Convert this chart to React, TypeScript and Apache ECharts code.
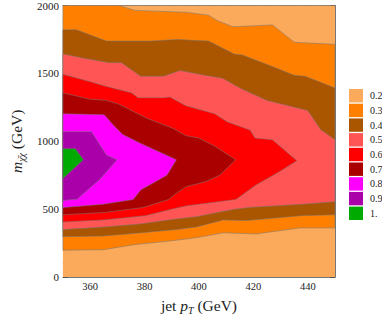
import React, { useEffect, useRef } from "react";
import * as echarts from "echarts";

// axis ranges and ticks
const xRange = [350, 450];
const yRange = [0, 2000];
const xMajorTicks = [360, 380, 400, 420, 440];
const xMinorTicks = [355, 365, 370, 375, 385, 390, 395, 405, 410, 415, 425, 430, 435, 445];

// contour levels (legend labels) and colours
const levelLabels = ["0.2", "0.3", "0.4", "0.5", "0.6", "0.7", "0.8", "0.9", "1."];
const levelColors = ["#FBA95A", "#FF8000", "#AA5500", "#FF5555", "#FF0000", "#AA0000", "#FF00FF", "#AA00AA", "#00AA00"];

// regions (value >= level), as [jet pT, m] points
const region02 = [[350, 0], [450, 0], [450, 2000], [350, 2000]];
const region03 = [
  [350, 198], [365, 202], [376, 238], [391, 270], [399, 290], [409, 326], [421, 318], [437, 362], [450, 362],
  [450, 1714], [435, 1729], [427, 1857], [412.5, 1843], [407, 1886], [403.5, 1929], [395, 1950], [376.5, 1964], [370.5, 2000], [350, 2000],
];
const region04 = [
  [350, 298], [365, 302], [379, 326], [392, 350], [399, 369], [409, 421], [417.5, 416], [437.5, 452], [450, 459],
  [450, 1393], [439, 1479], [435, 1486], [427, 1550], [416, 1636], [413, 1643], [403.5, 1738], [392, 1750], [382, 1738], [366, 1738], [355, 1821], [350, 1821],
];
const region05 = [
  [350, 350], [365, 369], [379, 393], [392, 429], [399, 445], [413, 500], [419, 514], [437.5, 536], [450, 555],
  [450, 1012], [444.7, 1086], [440, 1226], [425, 1300], [415, 1393], [408.7, 1464], [402, 1486], [393, 1521], [387, 1479], [378.6, 1479], [371.5, 1579], [367, 1579], [358.8, 1607], [350, 1643],
];
const region06 = [
  [350, 405], [365, 421], [380.4, 452], [390, 500], [395.2, 524], [413.6, 571], [421, 679], [429.4, 774], [436, 857],
  [427, 1012], [420.6, 1024], [418.8, 1083], [410.5, 1143], [405.8, 1202], [395.2, 1262], [389.3, 1326], [387, 1321], [377.6, 1321], [375.2, 1357], [365.8, 1405], [359.9, 1440], [350, 1493],
];
const region07 = [
  [350, 459], [365.2, 476], [379.3, 512], [388.8, 571], [391, 607], [395.2, 666], [402.3, 702], [407.6, 750], [413.5, 864],
  [405.8, 964], [399.9, 1024], [395.2, 1041], [390.5, 1095], [381.1, 1167], [376.4, 1214], [370.5, 1274], [365.8, 1302], [359.9, 1310], [350, 1357],
];
const region08 = [
  [350, 512], [364.6, 536], [375.8, 571], [378.7, 643], [388.2, 750], [391.7, 864],
  [378.2, 988], [372, 1050], [368.5, 1120], [365.2, 1195], [350, 1202],
];
const region09 = [
  [350, 564], [355.2, 574], [363.6, 720], [369.9, 864], [366, 900], [360.5, 1071], [350, 1071],
];
const region10 = [[350, 726], [357.5, 864], [354.6, 945], [350, 945]];

const regions = [region02, region03, region04, region05, region06, region07, region08, region09, region10];

const SERIF = "serif";

export default function App() {
  const ref = useRef<HTMLDivElement>(null);
  useEffect(() => {
    if (!ref.current) return;
    const chart = echarts.init(ref.current, undefined, { renderer: "svg" });
    const tickColor = "#555";
    const frame = { show: true, lineStyle: { color: "#777", width: 1 } };
    const baseX = { type: "value", min: xRange[0], max: xRange[1], splitLine: { show: false } };
    const baseY = { type: "value", min: yRange[0], max: yRange[1], interval: 500, splitLine: { show: false } };
    const nameRich = {
      n: { fontFamily: SERIF, fontSize: 15.5, lineHeight: 20, color: "#222" },
      i: { fontFamily: SERIF, fontSize: 15.5, lineHeight: 20, fontStyle: "italic", color: "#222" },
      s: { fontFamily: SERIF, fontSize: 10, lineHeight: 10, fontStyle: "italic", verticalAlign: "bottom", color: "#222" },
    };
    const option: any = {
      animation: false,
      textStyle: { fontFamily: SERIF },
      grid: { left: 52, right: 47, top: 5, bottom: 35 },
      legend: {
        orient: "vertical",
        left: 349,
        top: 89,
        padding: 0,
        itemWidth: 14,
        itemHeight: 13.4,
        itemGap: 1.3,
        icon: "rect",
        data: levelLabels,
        textStyle: { fontFamily: SERIF, fontSize: 10, color: "#222", padding: [0, 0, 0, 2] },
      },
      xAxis: [
        {
          ...baseX,
          position: "bottom",
          axisLine: frame,
          axisTick: { show: true, inside: true, length: 5, customValues: xMajorTicks, lineStyle: { color: tickColor } },
          axisLabel: { customValues: xMajorTicks, fontFamily: SERIF, fontSize: 10.5, color: "#222", margin: 4 },
          name: "{n|jet }{i|p}{s|T}{n| (GeV)}",
          nameLocation: "middle",
          nameGap: 16,
          nameTextStyle: { fontFamily: SERIF, rich: nameRich },
        },
        {
          ...baseX,
          position: "bottom",
          axisLine: { show: false },
          axisTick: { show: true, inside: true, length: 2.5, customValues: xMinorTicks, lineStyle: { color: tickColor } },
          axisLabel: { show: false },
        },
        {
          ...baseX,
          position: "top",
          axisLine: frame,
          axisTick: { show: true, inside: true, length: 5, customValues: xMajorTicks, lineStyle: { color: tickColor } },
          axisLabel: { show: false },
        },
        {
          ...baseX,
          position: "top",
          axisLine: { show: false },
          axisTick: { show: true, inside: true, length: 2.5, customValues: xMinorTicks, lineStyle: { color: tickColor } },
          axisLabel: { show: false },
        },
      ],
      yAxis: [
        {
          ...baseY,
          position: "left",
          axisLine: frame,
          axisTick: { show: true, inside: true, length: 5, lineStyle: { color: tickColor } },
          minorTick: { show: true, splitNumber: 5, length: 2.5, lineStyle: { color: tickColor } },
          axisLabel: { fontFamily: SERIF, fontSize: 11, color: "#222", margin: 4, formatter: (v: number) => String(v) },
          name: "{i|m}{s|\u03C7\u0304\u03C7}{n| (GeV)}",
          nameLocation: "middle",
          nameGap: 33,
          nameTextStyle: { fontFamily: SERIF, rich: nameRich },
        },
        {
          ...baseY,
          position: "right",
          axisLine: frame,
          axisTick: { show: true, inside: true, length: 5, lineStyle: { color: tickColor } },
          minorTick: { show: true, splitNumber: 5, length: 2.5, lineStyle: { color: tickColor } },
          axisLabel: { show: false },
        },
      ],
      series: regions.map((poly, k) => ({
        type: "custom",
        name: levelLabels[k],
        xAxisIndex: 0,
        yAxisIndex: 0,
        clip: true,
        silent: true,
        z: 1,
        itemStyle: { color: levelColors[k] },
        data: [[400, 1000]],
        encode: { x: 0, y: 1 },
        renderItem: (params: any, api: any) => {
          const pts = poly.map((p) => api.coord(p));
          return {
            type: "polygon",
            shape: { points: pts },
            style: {
              fill: levelColors[k],
              stroke: k === 0 ? "none" : "rgba(120,120,120,0.75)",
              lineWidth: 0.7,
            },
          };
        },
      })),
    };
    chart.setOption(option);
    return () => chart.dispose();
  }, []);
  return <div ref={ref} style={{ width: 382, height: 320, position: "absolute", left: 0, top: 0 }} />;
}
